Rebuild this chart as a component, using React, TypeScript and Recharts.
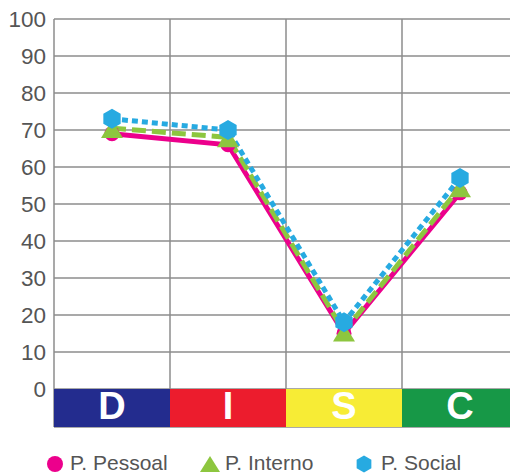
import React from 'react';
import {
  LineChart,
  Line,
  XAxis,
  YAxis,
  CartesianGrid,
  ReferenceArea,
  Legend,
} from 'recharts';

const categories = ['D', 'I', 'S', 'C'];
const pessoal = [69, 66, 15, 53];
const interno = [70.5, 68, 15.5, 54.5];
const social = [73, 70, 18, 57];
const yTicks = [0, 10, 20, 30, 40, 50, 60, 70, 80, 90, 100];
const bandTicks = [0, 1, 2, 3, 4];
const bandColors = ['#232C8E', '#EC1C2D', '#F7EC35', '#179847'];
const seriesNames = ['P. Pessoal', 'P. Interno', 'P. Social'];

const PINK = '#EC008C';
const GREEN = '#8DC63F';
const BLUE = '#27AAE1';
const FONT = '"Liberation Sans", Arial, Helvetica, sans-serif';

const data = categories.map((c, i) => ({
  cat: c,
  band: bandTicks[i],
  pessoal: pessoal[i],
  interno: interno[i],
  social: social[i],
}));

const hexPoints = (cx: number, cy: number, r: number) => {
  const pts: string[] = [];
  for (let k = 0; k < 6; k++) {
    const a = (Math.PI / 3) * k - Math.PI / 2;
    pts.push(`${cx + r * Math.cos(a)},${cy + r * Math.sin(a)}`);
  }
  return pts.join(' ');
};

const triPoints = (cx: number, cy: number, w: number, h: number) =>
  `${cx},${cy - h / 2} ${cx + w / 2},${cy + h / 2} ${cx - w / 2},${cy + h / 2}`;

const CircleDot = (props: any) => {
  const { cx, cy, index } = props;
  if (cx == null || cy == null) return <g key={index} />;
  return <circle key={index} cx={cx} cy={cy} r={7.5} fill={PINK} />;
};

const TriDot = (props: any) => {
  const { cx, cy, index } = props;
  if (cx == null || cy == null) return <g key={index} />;
  return <polygon key={index} points={triPoints(cx, cy + 1, 22, 18)} fill={GREEN} />;
};

const HexDot = (props: any) => {
  const { cx, cy, index } = props;
  if (cx == null || cy == null) return <g key={index} />;
  return <polygon key={index} points={hexPoints(cx, cy, 10)} fill={BLUE} />;
};

const BandLabel = (letter: string) => (props: any) => {
  const vb = props.viewBox || {};
  const x = vb.x + vb.width / 2;
  const y = vb.y + vb.height / 2 + 0.36 * 38 - 3;
  return (
    <text
      x={x}
      y={y}
      textAnchor="middle"
      fill="#ffffff"
      fontSize={38}
      fontWeight="bold"
      fontFamily={FONT}
    >
      {letter}
    </text>
  );
};

const LegendContent = () => {
  const textStyle: React.CSSProperties = {
    position: 'absolute',
    top: 24,
    fontSize: 21,
    fontFamily: FONT,
    color: '#555555',
    lineHeight: '24px',
    whiteSpace: 'nowrap',
  };
  return (
    <div style={{ position: 'relative', width: 510, height: 46 }}>
      <svg width={510} height={46} style={{ position: 'absolute', left: 0, top: 0 }}>
        <circle cx={47} cy={37} r={8} fill={PINK} />
        <polygon points={triPoints(202, 37, 20, 16)} fill={GREEN} />
        <polygon points={hexPoints(356, 37, 8.5)} fill={BLUE} />
      </svg>
      <span style={{ ...textStyle, left: 62 }}>{seriesNames[0]}</span>
      <span style={{ ...textStyle, left: 217 }}>{seriesNames[1]}</span>
      <span style={{ ...textStyle, left: 373 }}>{seriesNames[2]}</span>
    </div>
  );
};

export default function App() {
  return (
    <div style={{ width: 510, height: 465 }}>
      <LineChart
        width={510}
        height={465}
        data={data}
        margin={{ top: 11, right: 0, left: 0, bottom: 0 }}
      >
        <XAxis
          xAxisId="cat"
          dataKey="cat"
          type="category"
          hide
          padding={{ left: 58, right: 58 }}
        />
        <XAxis
          xAxisId="grid"
          dataKey="band"
          type="number"
          domain={[0, 4]}
          allowDataOverflow
          ticks={bandTicks}
          hide
        />
        <YAxis
          type="number"
          domain={[-10.3, 100]}
          allowDataOverflow
          ticks={yTicks}
          width={46}
          axisLine={false}
          tickLine={false}
          interval={0}
          tick={{ fill: '#555555', fontSize: 22.5, fontFamily: FONT }}
        />
        <CartesianGrid
          xAxisId="grid"
          stroke="#8c8c8c"
          strokeWidth={1.5}
        />
        {categories.map((c, i) => (
          <ReferenceArea
            key={c}
            xAxisId="grid"
            x1={bandTicks[i]}
            x2={bandTicks[i + 1]}
            y1={-10.3}
            y2={0}
            fill={bandColors[i]}
            fillOpacity={1}
            stroke="none"
            ifOverflow="visible"
            label={BandLabel(c)}
          />
        ))}
        <Line
          xAxisId="cat"
          type="linear"
          dataKey="pessoal"
          name={seriesNames[0]}
          stroke={PINK}
          strokeWidth={5}
          dot={CircleDot}
          activeDot={false}
          isAnimationActive={false}
        />
        <Line
          xAxisId="cat"
          type="linear"
          dataKey="interno"
          name={seriesNames[1]}
          stroke={GREEN}
          strokeWidth={5}
          strokeDasharray="14 6"
          dot={TriDot}
          activeDot={false}
          isAnimationActive={false}
        />
        <Line
          xAxisId="cat"
          type="linear"
          dataKey="social"
          name={seriesNames[2]}
          stroke={BLUE}
          strokeWidth={5}
          strokeDasharray="6 4"
          dot={HexDot}
          activeDot={false}
          isAnimationActive={false}
        />
        <Legend verticalAlign="bottom" content={LegendContent} />
      </LineChart>
    </div>
  );
}
